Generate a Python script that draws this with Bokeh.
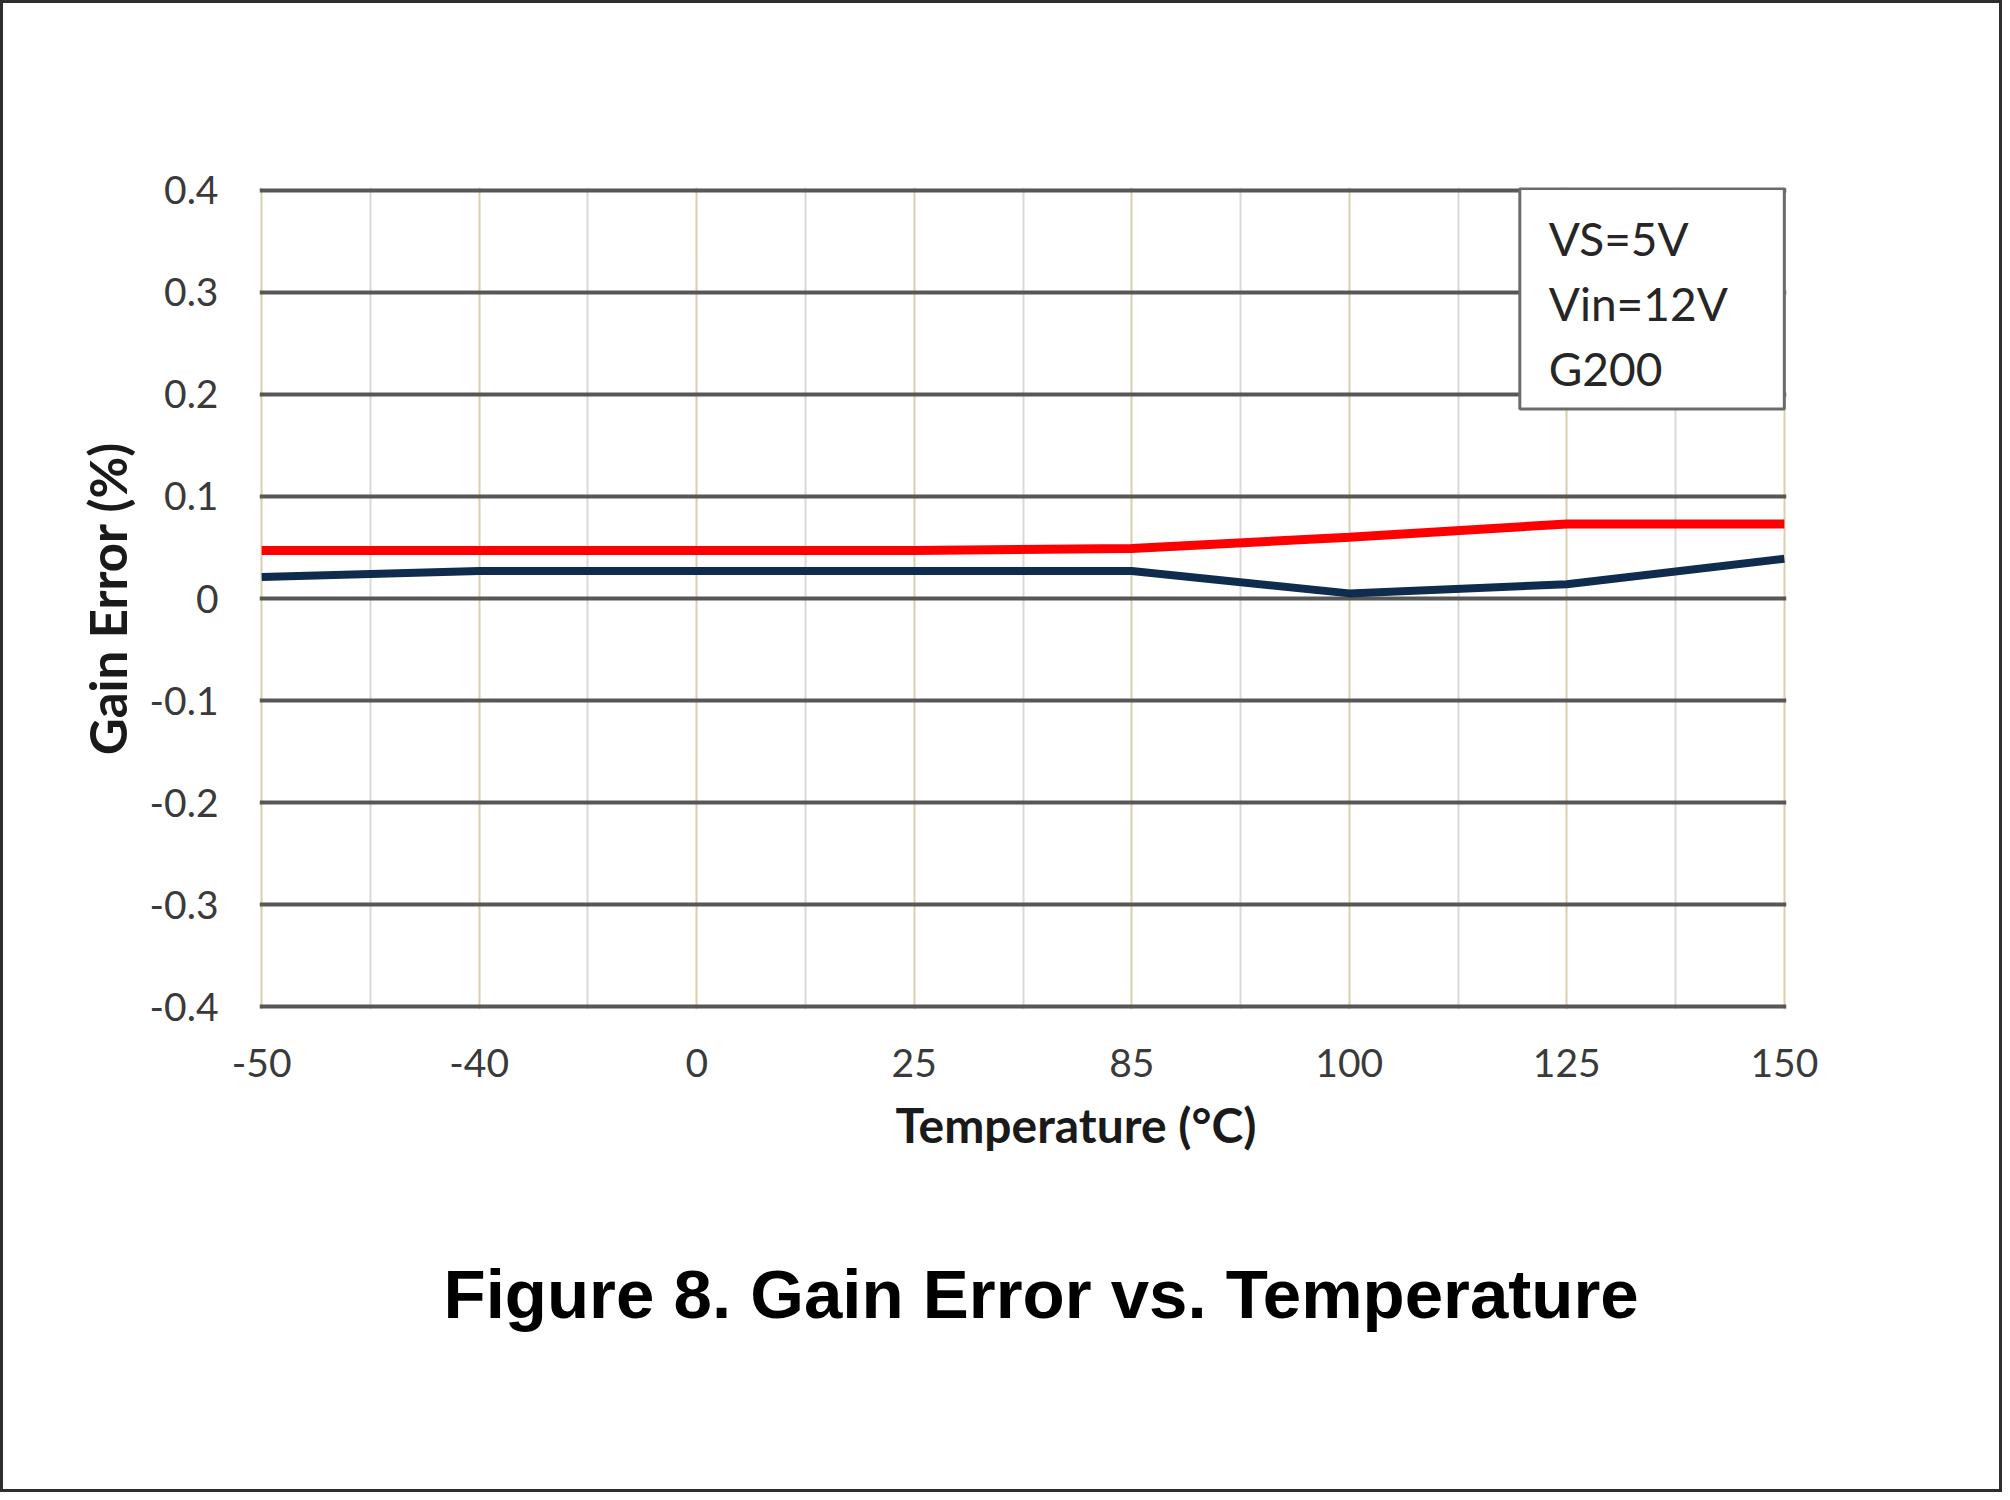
from bokeh.plotting import figure
from bokeh.models import FixedTicker, Range1d, BoxAnnotation, Label, Title
from bokeh.embed import file_html
from bokeh.resources import INLINE

# ---- data ----
temps = ["-50", "-40", "0", "25", "85", "100", "125", "150"]
red_vals = [0.047, 0.047, 0.047, 0.047, 0.049, 0.060, 0.073, 0.073]
navy_vals = [0.021, 0.027, 0.027, 0.027, 0.027, 0.005, 0.014, 0.039]
ytick_vals = [-0.4, -0.3, -0.2, -0.1, 0, 0.1, 0.2, 0.3, 0.4]
ytick_labels = ["-0.4", "-0.3", "-0.2", "-0.1", "0", "0.1", "0.2", "0.3", "0.4"]
info_lines = ["VS=5V", "Vin=12V", "G200"]
x_title = "Temperature (°C)"
y_title = "Gain Error (%)"
caption = "Figure 8. Gain Error vs. Temperature"

xs = list(range(len(temps)))

p = figure(width=2002, height=1492, output_backend="svg", toolbar_location=None,
           x_range=Range1d(-0.01, len(temps) - 1 + 0.01),
           y_range=Range1d(-0.4025, 0.4025),
           min_border_left=256, min_border_right=219, min_border_top=184,
           min_border_bottom=486)
p.outline_line_color = None
p.background_fill_color = "white"
p.border_fill_color = "white"
p.styles = {"border": "3px solid #2e2e2e"}

# grids
p.xgrid.ticker = FixedTicker(ticks=xs, minor_ticks=[i + 0.5 for i in xs[:-1]])
p.xgrid.grid_line_color = "#d8cfae"
p.xgrid.grid_line_width = 2
p.xgrid.minor_grid_line_color = "#d9d9d9"
p.xgrid.minor_grid_line_width = 2
p.ygrid.ticker = FixedTicker(ticks=ytick_vals)
p.ygrid.grid_line_color = "#575757"
p.ygrid.grid_line_width = 4

# series
p.line(xs, navy_vals, line_color="#0f2b4d", line_width=8)
p.line(xs, red_vals, line_color="#ff0000", line_width=9)

# axes
xa = p.xaxis[0]
xa.ticker = FixedTicker(ticks=xs)
xa.major_label_overrides = {i: t for i, t in zip(xs, temps)}
ya = p.yaxis[0]
ya.ticker = FixedTicker(ticks=ytick_vals)
ya.major_label_overrides = {v: t for v, t in zip(ytick_vals, ytick_labels)}
for ax in (xa, ya):
    ax.axis_line_color = None
    ax.major_tick_line_color = None
    ax.minor_tick_line_color = None
    ax.major_tick_out = 0
    ax.major_tick_in = 0
    ax.major_label_text_font = "Lato"
    ax.major_label_text_font_size = "39px"
    ax.major_label_text_color = "#3a3a3a"
    ax.axis_label_text_font = "Lato"
    ax.axis_label_text_font_style = "bold"
    ax.axis_label_text_font_size = "51px"
    ax.axis_label_text_color = "#1a1a1a"
ya.axis_label = y_title
xa.major_label_standoff = 39
ya.major_label_standoff = 41
ya.axis_label_standoff = 9

# x axis title (placed right of centre like the reference) and caption
p.add_layout(Title(text=x_title, align="left", offset=636, standoff=28,
                   text_font="Lato", text_font_style="bold",
                   text_font_size="48px", text_color="#1a1a1a"), "below")
p.add_layout(Title(text=caption, align="left", offset=184, standoff=175,
                   text_font="Liberation Sans", text_font_style="bold",
                   text_font_size="69px", text_color="black"), "below")

# info box
box = BoxAnnotation(left=5.784, right=len(temps) - 1, bottom=0.1855, top=0.4015,
                    fill_color="white", fill_alpha=1.0,
                    line_color="#6b6b6b", line_alpha=1.0, line_width=3)
p.add_layout(box)
for i, t in enumerate(info_lines):
    p.add_layout(Label(x=5.917, y=0.353 - i * 0.0641, text=t,
                       text_font="Lato", text_font_size="46px",
                       text_color="#262626", text_baseline="alphabetic",
                       text_align="left"))

open("out.html", "w").write(file_html(p, INLINE))
